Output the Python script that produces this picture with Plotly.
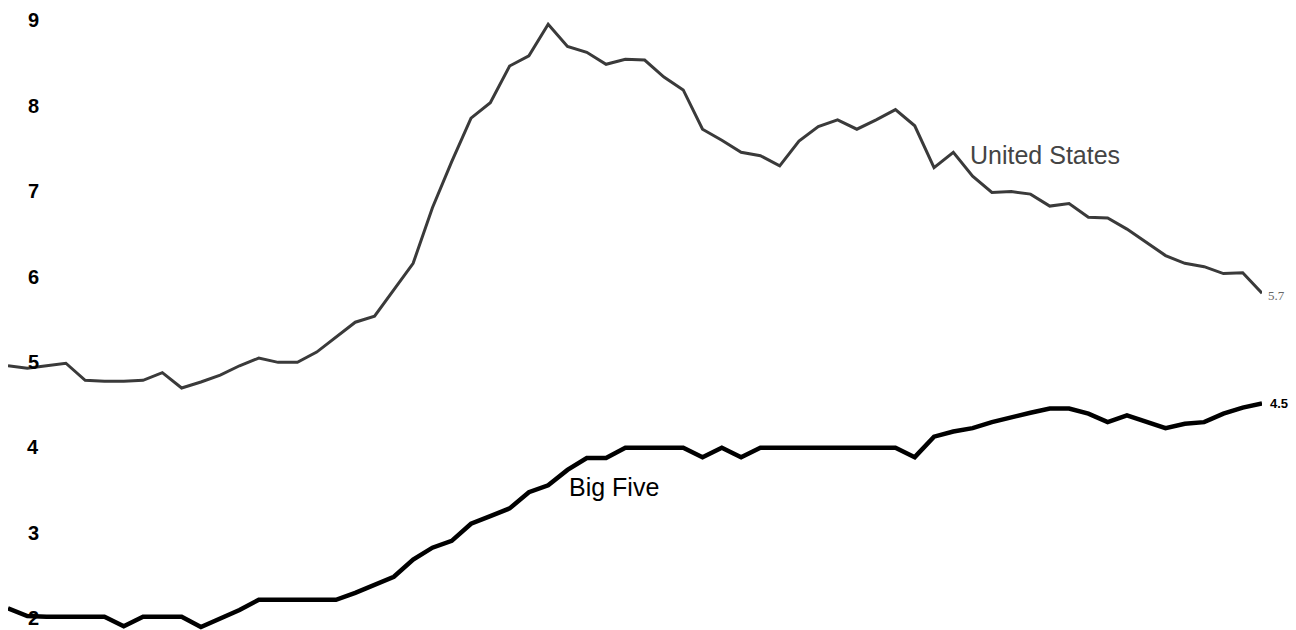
import plotly.graph_objects as go

# month index (monthly observations)
periods = list(range(66))

united_states = [
    4.99, 4.96, 4.99, 5.02, 4.82, 4.81, 4.81, 4.82, 4.91, 4.73,
    4.80, 4.88, 4.99, 5.08, 5.03, 5.03, 5.15, 5.32, 5.50, 5.57,
    5.88, 6.19, 6.84, 7.38, 7.89, 8.07, 8.50, 8.62, 8.99, 8.73,
    8.66, 8.52, 8.58, 8.57, 8.37, 8.22, 7.76, 7.63, 7.49, 7.45,
    7.33, 7.62, 7.79, 7.87, 7.76, 7.87, 7.99, 7.80, 7.31, 7.49,
    7.21, 7.02, 7.03, 7.00, 6.86, 6.89, 6.73, 6.72, 6.59, 6.44,
    6.28, 6.19, 6.15, 6.07, 6.08, 5.84,
]

big_five = [
    2.15, 2.06, 2.05, 2.05, 2.05, 2.05, 1.94, 2.05, 2.05, 2.05,
    1.93, 2.03, 2.13, 2.25, 2.25, 2.25, 2.25, 2.25, 2.33, 2.42,
    2.52, 2.72, 2.86, 2.94, 3.14, 3.23, 3.32, 3.51, 3.59, 3.77,
    3.91, 3.91, 4.03, 4.03, 4.03, 4.03, 3.92, 4.03, 3.92, 4.03,
    4.03, 4.03, 4.03, 4.03, 4.03, 4.03, 4.03, 3.92, 4.16, 4.22,
    4.26, 4.33, 4.39, 4.44, 4.49, 4.49, 4.43, 4.33, 4.41, 4.34,
    4.26, 4.31, 4.33, 4.43, 4.50, 4.55,
]

tick_values = [2, 3, 4, 5, 6, 7, 8, 9]
tick_labels = ["2", "3", "4", "5", "6", "7", "8", "9"]

series_names = ["United States", "Big Five"]
end_labels = ["5.7", "4.5"]

fig = go.Figure()
fig.add_trace(go.Scatter(
    x=periods, y=united_states, mode="lines", name=series_names[0],
    line=dict(color="#3a3a3a", width=3), showlegend=False, hoverinfo="skip",
))
fig.add_trace(go.Scatter(
    x=periods, y=big_five, mode="lines", name=series_names[1],
    line=dict(color="#000000", width=4.5), showlegend=False, hoverinfo="skip",
))

annotations = []
for v, lab in zip(tick_values, tick_labels):
    annotations.append(dict(
        x=0, xref="paper", y=v, yref="y", text="<b>" + lab + "</b>", showarrow=False,
        xanchor="center", yanchor="middle", xshift=25, yshift=3, borderpad=0,
        font=dict(family="Liberation Sans, Arial", size=20, color="#000000"),
    ))

# series labels
annotations.append(dict(
    x=49.75, y=7.46, xref="x", yref="y", text=series_names[0], showarrow=False,
    xanchor="left", yanchor="middle",
    font=dict(family="Liberation Sans, Arial", size=25, color="#444444"),
))
annotations.append(dict(
    x=29.0, y=3.57, xref="x", yref="y", text=series_names[1], showarrow=False,
    xanchor="left", yanchor="middle",
    font=dict(family="Liberation Sans, Arial", size=25, color="#000000"),
))
# end value labels
annotations.append(dict(
    x=periods[-1], y=united_states[-1], xref="x", yref="y", text=end_labels[0],
    showarrow=False, xanchor="left", yanchor="middle", xshift=4, yshift=-2,
    font=dict(family="Liberation Serif, Times New Roman", size=13, color="#666666"),
))
annotations.append(dict(
    x=periods[-1], y=big_five[-1], xref="x", yref="y", text="<b>" + end_labels[1] + "</b>",
    showarrow=False, xanchor="left", yanchor="middle", xshift=6,
    font=dict(family="Liberation Sans, Arial", size=13, color="#000000"),
))

fig.update_layout(
    width=1296, height=630,
    margin=dict(l=8, r=34, t=0, b=0),
    paper_bgcolor="#ffffff", plot_bgcolor="#ffffff",
    xaxis=dict(range=[0, 65], visible=False, fixedrange=True),
    yaxis=dict(range=[1.896, 9.273], visible=False, fixedrange=True,
               tickvals=tick_values, ticktext=tick_labels),
    annotations=annotations,
    showlegend=False,
)

fig.write_html(
    "out.html",
    config={"displayModeBar": False, "staticPlot": True},
    post_script="document.body.style.margin='0';document.body.style.overflow='hidden';",
)
